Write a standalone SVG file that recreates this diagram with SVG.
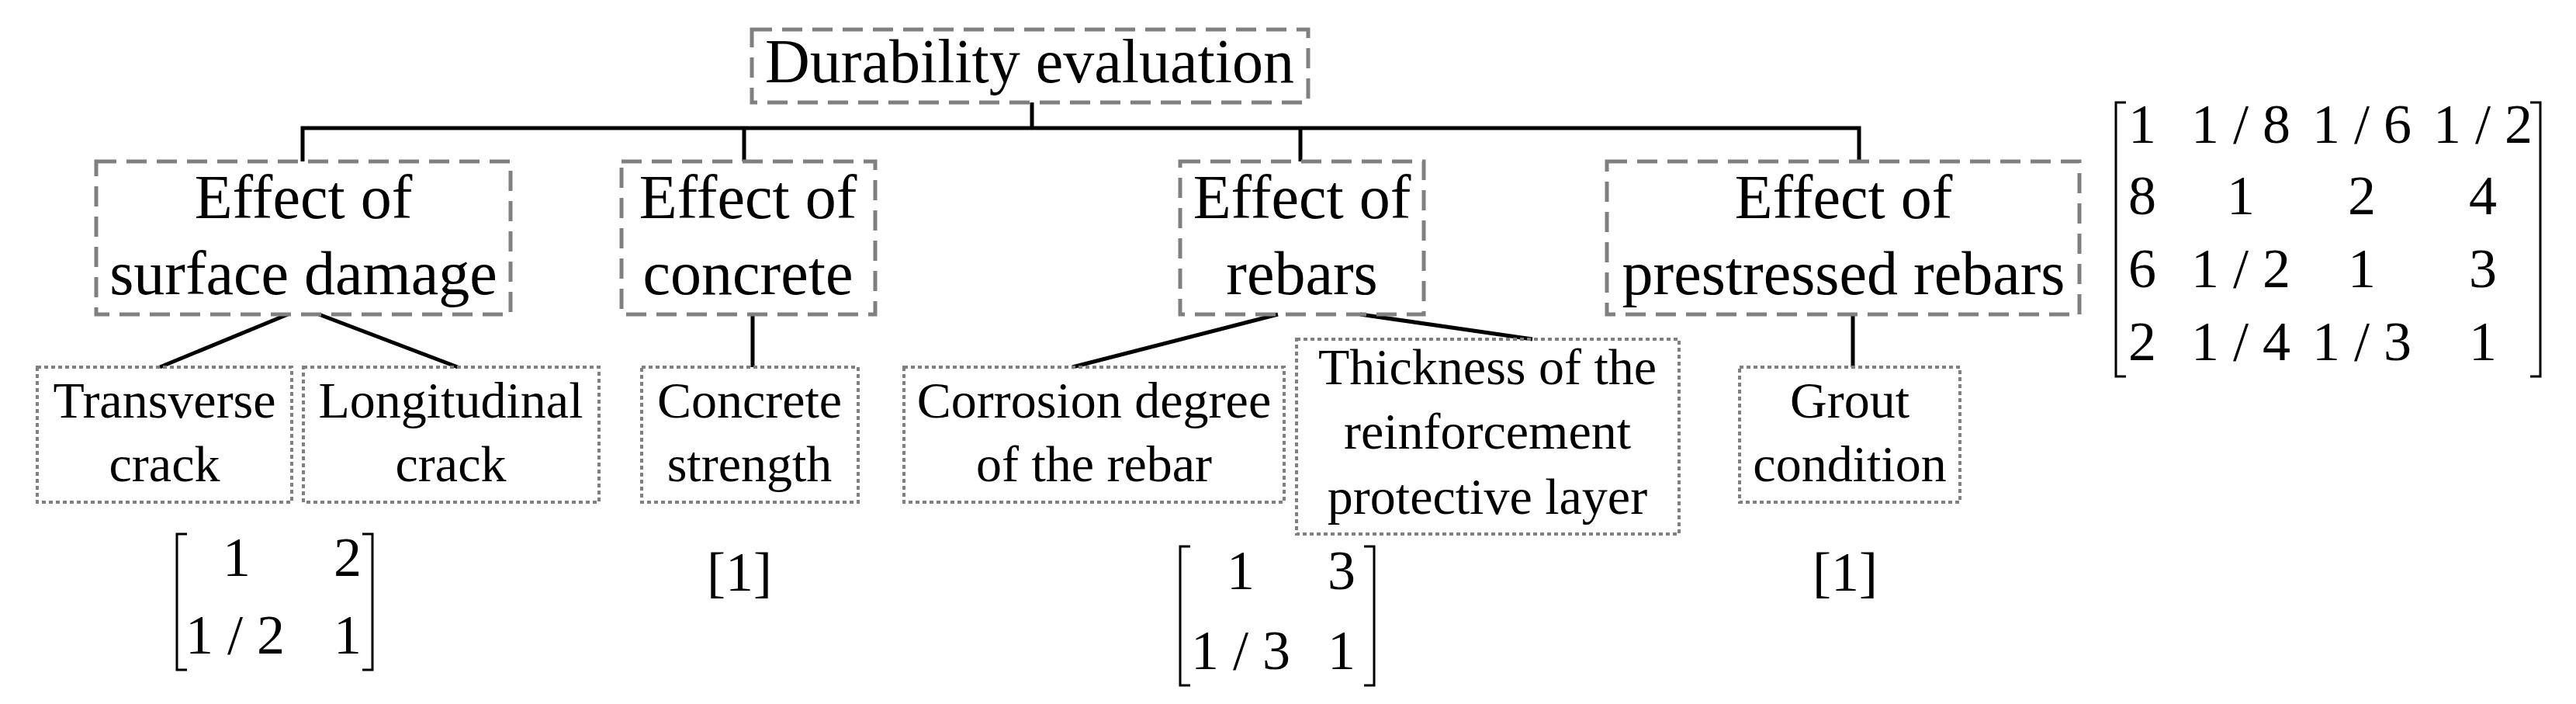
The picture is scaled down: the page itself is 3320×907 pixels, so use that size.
<svg xmlns="http://www.w3.org/2000/svg" width="3320" height="907" viewBox="0 0 3320 907">
<style>
text{font-family:'Liberation Serif','DejaVu Serif','Times New Roman',serif;fill:#000;text-anchor:middle}
.t1{font-size:80px}.t2{font-size:80px}.t3{font-size:66px}.m{font-size:72px}
.dash{fill:none;stroke:#808080;stroke-width:5;stroke-dasharray:26 13}
.dot{fill:none;stroke:#808080;stroke-width:4;stroke-dasharray:5 4}
.c{fill:none;stroke:#000;stroke-width:5}
.br{fill:none;stroke:#000;stroke-width:3}
</style>
<g id="connectors">
<path class="c" d="M1330 132V165M390 208V165H2396V208M959 165V208M1676 165V208"/>
<path class="c" d="M371 405L206 473M411 405L590 473M970 405V473M1647 405L1382 473M1753 405L1975 437M2388 405V473"/>
</g>
<g font-family="Liberation Serif, serif">
<g id="root"><rect class="dash" x="969" y="38" width="717" height="94"/>
<text class="t1" x="1327" y="106">Durability evaluation</text></g>
<g id="surface"><rect class="dash" x="124" y="208" width="534" height="197"/>
<text class="t2"><tspan x="391" y="281">Effect of</tspan><tspan x="391" y="379">surface damage</tspan></text></g>
<g id="concrete"><rect class="dash" x="801" y="208" width="327" height="197"/>
<text class="t2"><tspan x="964" y="281">Effect of</tspan><tspan x="964" y="379">concrete</tspan></text></g>
<g id="rebars"><rect class="dash" x="1521" y="208" width="314" height="197"/>
<text class="t2"><tspan x="1678" y="281">Effect of</tspan><tspan x="1678" y="379">rebars</tspan></text></g>
<g id="prestressed"><rect class="dash" x="2071" y="208" width="609" height="197"/>
<text class="t2"><tspan x="2376" y="281">Effect of</tspan><tspan x="2376" y="379">prestressed rebars</tspan></text></g>
<g id="transverse"><rect class="dot" x="48" y="473" width="328" height="174"/>
<text class="t3"><tspan x="212" y="538">Transverse</tspan><tspan x="212" y="620">crack</tspan></text></g>
<g id="longitudinal"><rect class="dot" x="391" y="473" width="381" height="174"/>
<text class="t3"><tspan x="581" y="538">Longitudinal</tspan><tspan x="581" y="620">crack</tspan></text></g>
<g id="strength"><rect class="dot" x="827" y="473" width="279" height="174"/>
<text class="t3"><tspan x="966" y="538">Concrete</tspan><tspan x="966" y="620">strength</tspan></text></g>
<g id="corrosion"><rect class="dot" x="1165" y="473" width="490" height="174"/>
<text class="t3"><tspan x="1410" y="538">Corrosion degree</tspan><tspan x="1410" y="620">of the rebar</tspan></text></g>
<g id="thickness"><rect class="dot" x="1671" y="437" width="493" height="251"/>
<text class="t3"><tspan x="1917" y="495">Thickness of the</tspan><tspan x="1917" y="578">reinforcement</tspan><tspan x="1917" y="662">protective layer</tspan></text></g>
<g id="grout"><rect class="dot" x="2242" y="473" width="284" height="174"/>
<text class="t3"><tspan x="2384" y="538">Grout</tspan><tspan x="2384" y="620">condition</tspan></text></g>
<g id="matrices">
<path class="br" d="M241 688H228V863H241M467 688H480V863H467"/>
<text class="m" x="305" y="742">1</text>
<text class="m" x="448" y="742">2</text>
<text class="m" x="303" y="842">1 / 2</text>
<text class="m" x="448" y="842">1</text>
<text class="m" x="953" y="761">[1]</text>
<text class="m" x="2378" y="761">[1]</text>
<path class="br" d="M1534 704H1521V883H1534M1758 704H1771V883H1758"/>
<text class="m" x="1599" y="759">1</text>
<text class="m" x="1729" y="759">3</text>
<text class="m" x="1599" y="862">1 / 3</text>
<text class="m" x="1729" y="862">1</text>
<path class="br" d="M2740 132H2727V485H2740M3261 132H3274V485H3261"/>
<text class="m" x="2761" y="184">1</text>
<text class="m" x="2888" y="184">1 / 8</text>
<text class="m" x="3044" y="184">1 / 6</text>
<text class="m" x="3200" y="184">1 / 2</text>
<text class="m" x="2761" y="276">8</text>
<text class="m" x="2888" y="276">1</text>
<text class="m" x="3044" y="276">2</text>
<text class="m" x="3200" y="276">4</text>
<text class="m" x="2761" y="370">6</text>
<text class="m" x="2888" y="370">1 / 2</text>
<text class="m" x="3044" y="370">1</text>
<text class="m" x="3200" y="370">3</text>
<text class="m" x="2761" y="464">2</text>
<text class="m" x="2888" y="464">1 / 4</text>
<text class="m" x="3044" y="464">1 / 3</text>
<text class="m" x="3200" y="464">1</text>
</g>
</g>
</svg>
